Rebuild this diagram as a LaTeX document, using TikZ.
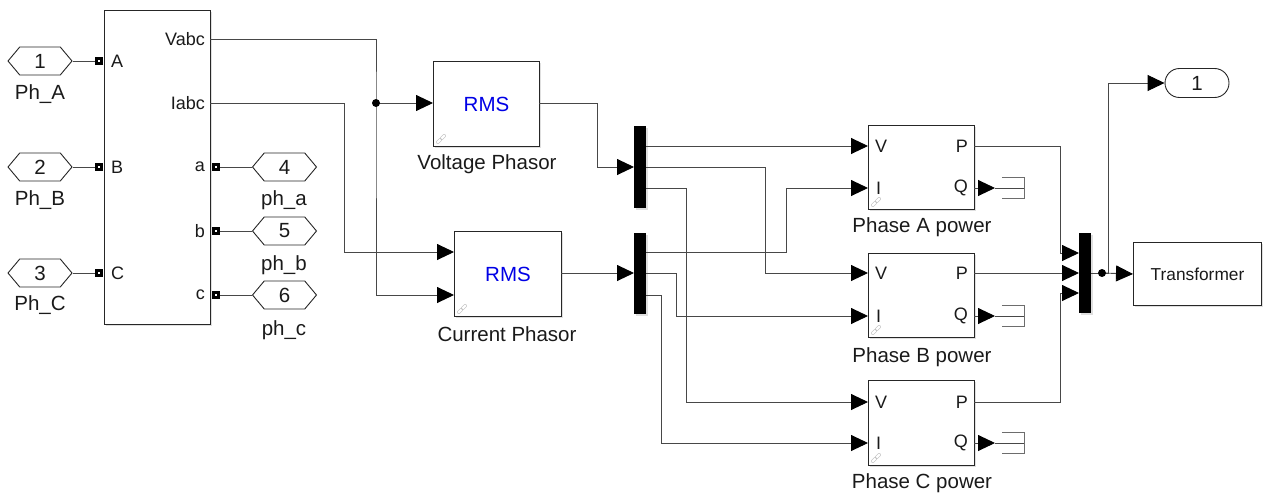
\documentclass[tikz,border=0pt]{standalone}
\usepackage{fontspec}
\setmainfont{Liberation Sans}
\usetikzlibrary{arrows.meta,shapes.symbols,shapes.misc,shadows,calc}
\definecolor{wirec}{HTML}{484848}
\definecolor{rmsblue}{HTML}{0000E6}
\definecolor{txt}{HTML}{1A1A1A}
\begin{document}
\begin{tikzpicture}[x=1pt,y=-1pt,
  wire/.style={draw=wirec,line width=0.9pt},
  arr/.style={wire,-{Triangle[length=17pt,width=16pt,color=black,fill=black]}},
  blk/.style={draw=black!85,line width=1pt,fill=white,inner sep=0pt,anchor=north west,
    drop shadow={shadow xshift=1.5pt,shadow yshift=-1.5pt,opacity=0.25}},
  bar/.style={fill=black,inner sep=0pt,anchor=north west,minimum width=12pt,
    drop shadow={shadow xshift=1.5pt,shadow yshift=-1.5pt,opacity=0.25}},
  tag/.style={shape=signal,signal to=west and east,signal pointer angle=100,
    draw=black!85,line width=0.9pt,minimum width=64pt,minimum height=28pt,inner sep=0pt,
    fill=white,text=txt,font=\fontsize{20.5}{22}\selectfont},
  lbl/.style={text=txt,inner sep=0pt,font=\fontsize{20.5}{24}\selectfont},
  plbl/.style={text=txt,inner sep=0pt,font=\fontsize{18}{20}\selectfont},
  psq/.style={fill=black,minimum size=8.5pt,inner sep=0pt},
  pdot/.style={fill=white,minimum size=2.8pt,inner sep=0pt},
  term/.style={minimum width=22pt,minimum height=21pt,inner sep=0pt},
  termline/.style={draw=wirec!80,line width=0.9pt},
  jdot/.style={fill=black,circle,minimum size=8pt,inner sep=0pt},
  linkic/.style={draw=gray!55,line width=0.5pt,rounded corners=1pt,minimum width=6pt,
    minimum height=3pt,inner sep=0pt,rotate=45}
]
\useasboundingbox (0,0) rectangle (1266,495);

% ---------------- measurement block ----------------
\node[blk,minimum width=106pt,minimum height=314pt] (meas) at (104,10) {};
\node[plbl,anchor=west] (lA) at (111,61) {A};
\node[plbl,anchor=west] (lB) at (111,167) {B};
\node[plbl,anchor=west] (lC) at (111,273) {C};
\node[plbl,anchor=east] (lV) at (205,39) {Vabc};
\node[plbl,anchor=east] (lI) at (205,103) {Iabc};
\node[plbl,anchor=east] (la) at (205,167) {a};
\node[plbl,anchor=east] (lb) at (205,231) {b};
\node[plbl,anchor=east] (lc) at (205,295) {c};

\foreach \n/\x/\y in {pA/99/61,pB/99/167,pC/99/273,pa/216/167,pb/216/231,pc/216/295}{
  \node[psq] (\n) at (\x,\y) {};
  \node[pdot] (\n d) at (\x,\y) {};
}
\coordinate (vabc) at (210,39);
\coordinate (iabc) at (210,103);

% ---------------- tags ----------------
\node[tag] (in1) at (40,61) {1};
\node[tag] (in2) at (40,167) {2};
\node[tag] (in3) at (40,273) {3};
\node[lbl] (in1l) at (40,94) {Ph\_A};
\node[lbl] (in2l) at (40,200) {Ph\_B};
\node[lbl] (in3l) at (40,305) {Ph\_C};
\node[tag] (o4) at (284.5,167) {4};
\node[tag] (o5) at (284.5,231) {5};
\node[tag] (o6) at (284.5,295) {6};
\node[lbl] (o4l) at (284,200) {ph\_a};
\node[lbl] (o5l) at (284,265) {ph\_b};
\node[lbl] (o6l) at (284,330) {ph\_c};

\draw[wire] (in1.east) -- (pA.west);
\draw[wire] (in2.east) -- (pB.west);
\draw[wire] (in3.east) -- (pC.west);
\draw[wire] (pa.east) -- (o4.west);
\draw[wire] (pb.east) -- (o5.west);
\draw[wire] (pc.east) -- (o6.west);

% ---------------- RMS blocks ----------------
\node[blk,minimum width=106pt,minimum height=85pt] (vp) at (433,61) {};
\node[lbl,text=rmsblue] (vpt) at (vp.center) {RMS};
\node[lbl] (vpl) at (487,164) {Voltage Phasor};
\node[blk,minimum width=107pt,minimum height=85pt] (cp) at (454,231) {};
\node[lbl,text=rmsblue] (cpt) at (cp.center) {RMS};
\node[lbl] (cpl) at (507,334) {Current Phasor};

\coordinate (vpin) at (433,103);
\coordinate (vpout) at (539,103);
\coordinate (cpin1) at (454,252);
\coordinate (cpin2) at (454,295);
\coordinate (cpout) at (561,273);
\coordinate (jV) at (376,103);

\draw[arr] (vabc) -| (jV) |- (cpin2);
\draw[arr] (jV) -- (vpin);
\node[jdot] (jVd) at (jV) {};
\draw[arr] (iabc) -- ++(134,0) |- (cpin1);

% ---------------- demuxes ----------------
\node[bar,minimum height=82pt] (dm1) at (634,126) {};
\node[bar,minimum height=81pt] (dm2) at (634,233) {};
\coordinate (dm1in) at (634,167);
\coordinate (dm2in) at (634,273);
\coordinate (o11) at (646,146);
\coordinate (o12) at (646,167);
\coordinate (o13) at (646,188);
\coordinate (o21) at (646,252);
\coordinate (o22) at (646,273);
\coordinate (o23) at (646,295);

\draw[arr] (vpout) -- ++(58,0) |- (dm1in);
\draw[arr] (cpout) -- (dm2in);

% ---------------- power blocks ----------------
\foreach \n/\L/\y/\h in {pwA/A/125/84,pwB/B/253/84,pwC/C/380/85}{
  \node[blk,minimum width=106pt,minimum height=\h pt] (\n) at (868,\y) {};
}
\node[lbl] (pwAl) at (922,227) {Phase A power};
\node[lbl] (pwBl) at (922,357) {Phase B power};
\node[lbl] (pwCl) at (922,483) {Phase C power};
\foreach \n/\v/\i in {A/146/188,B/273/316,C/402/443}{
  \node[plbl,anchor=west] (V\n) at (875,\v) {V};
  \node[plbl,anchor=west] (I\n) at (876,\i) {I};
  \node[plbl,anchor=east] (P\n) at (968,\v) {P};
  \node[plbl,anchor=east] (Q\n) at (968,\i) {Q};
  \coordinate (in V\n) at (868,\v);
  \coordinate (in I\n) at (868,\i);
  \coordinate (out P\n) at (974,\v);
  \coordinate (out Q\n) at (974,\i);
  \coordinate (qtip\n) at (995,\i);
  \node[term] (term\n) at (1013,\i) {};
  \draw[arr] (out Q\n) -- (qtip\n);
  \draw[wire] (qtip\n) -- (term\n.east);
  \draw[termline] (term\n.north west) -- (term\n.north east) -- (term\n.south east) -- (term\n.south west);
}
\foreach \b in {vp,cp,pwA,pwB,pwC}{
  \node[linkic] (\b lk1) at ($(\b.south west)+(6,-6)$) {};
  \node[linkic] (\b lk2) at ($(\b.south west)+(10,-10)$) {};
}

\draw[arr] (o11) -- (in VA);
\draw[arr] (o12) -- ++(119,0) |- (in VB);
\draw[arr] (o13) -- ++(40,0) |- (in VC);
\draw[arr] (o21) -- ++(140,0) |- (in IA);
\draw[arr] (o22) -- ++(30,0) |- (in IB);
\draw[arr] (o23) -- ++(15,0) |- (in IC);

% ---------------- mux, transformer, outport ----------------
\node[bar,minimum height=80pt] (mx) at (1079,233) {};
\coordinate (mx1) at (1079,253);
\coordinate (mx2) at (1079,273);
\coordinate (mx3) at (1079,293);
\coordinate (mxout) at (1091,273);
\draw[arr] (out PA) -- ++(86,0) |- (mx1);
\draw[arr] (out PB) -- (mx2);
\draw[arr] (out PC) -- ++(86,0) |- (mx3);

\node[blk,minimum width=128pt,minimum height=63pt] (tr) at (1133,242) {};
\node[text=txt,inner sep=0pt,font=\fontsize{17.3}{20}\selectfont] (trt) at (tr.center) {Transformer};
\node[rounded rectangle,draw=black!85,line width=0.9pt,minimum width=64pt,minimum height=29pt,
  inner sep=0pt,text=txt,font=\fontsize{20.5}{22}\selectfont] (out1) at (1197,83) {1};

\coordinate (jM) at (1102,273);
\draw[wire] (mxout) -- (jM);
\draw[arr] (jM) -- (tr.west);
\draw[arr] (jM) -- ++(6,0) |- (out1.west);
\node[jdot] (jMd) at (jM) {};
\end{tikzpicture}
\end{document}
